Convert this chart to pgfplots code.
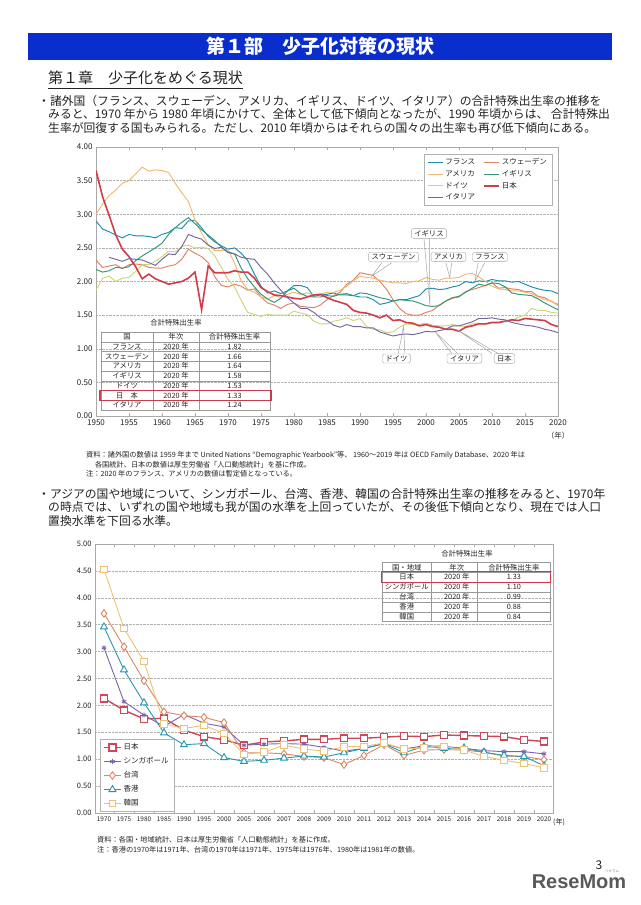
\documentclass[border=0pt]{standalone}
\usepackage{fontspec}
\usepackage{pgfplots}
\usepackage{pgfplotstable}
\pgfplotsset{compat=1.18}
\setmainfont{Noto Sans CJK JP}
\newfontfamily\logofont{Liberation Sans}
\newcommand\fs[1]{\fontsize{#1}{#1}\selectfont}

\definecolor{hdrblue}{RGB}{10,45,205}
\definecolor{txt}{RGB}{35,35,35}
\definecolor{axgray}{RGB}{170,170,170}
\definecolor{cFR}{RGB}{30,140,175}
\definecolor{cSE}{RGB}{225,130,100}
\definecolor{cUS}{RGB}{240,185,110}
\definecolor{cUK}{RGB}{50,150,120}
\definecolor{cDE}{RGB}{205,215,120}
\definecolor{cJP}{RGB}{210,60,75}
\definecolor{cIT}{RGB}{120,100,160}
\definecolor{aJP}{RGB}{205,70,90}
\definecolor{aSG}{RGB}{120,100,170}
\definecolor{aTW}{RGB}{220,135,100}
\definecolor{aHK}{RGB}{40,150,175}
\definecolor{aKR}{RGB}{235,195,120}
\definecolor{boxred}{RGB}{200,60,80}

% total fertility rate, 1950-2020
\pgfplotstableread{
year FR SE US UK DE JP IT
1950 2.90 2.32 3.00 2.18 1.87 3.65 nan
1951 2.78 2.21 3.15 2.14 2.05 3.26 nan
1952 2.74 2.23 3.28 2.16 2.08 2.98 2.36
1953 2.69 2.25 3.36 2.21 2.00 2.69 2.33
1954 2.65 2.19 3.46 2.20 2.05 2.48 2.30
1955 2.70 2.25 3.50 2.22 2.06 2.37 2.34
1956 2.68 2.26 3.60 2.31 2.15 2.22 2.33
1957 2.68 2.25 3.70 2.38 2.25 2.04 2.32
1958 2.67 2.21 3.64 2.44 2.25 2.11 2.28
1959 2.65 2.20 3.66 2.50 2.30 2.04 2.24
1960 2.70 2.20 3.65 2.57 2.37 2.00 2.33
1961 2.73 2.23 3.62 2.70 2.45 1.96 2.41
1962 2.80 2.25 3.46 2.80 2.44 1.98 2.40
1963 2.79 2.33 3.32 2.88 2.52 2.00 2.52
1964 2.90 2.48 3.19 2.95 2.54 2.05 2.70
1965 2.91 2.42 2.91 2.86 2.50 2.14 2.66
1966 2.80 2.37 2.72 2.77 2.51 1.58 2.63
1967 2.67 2.28 2.55 2.69 2.49 2.23 2.54
1968 2.59 2.07 2.46 2.61 2.38 2.13 2.49
1969 2.53 1.94 2.46 2.51 2.21 2.13 2.51
1970 2.48 1.92 2.48 2.44 2.03 2.13 2.43
1971 2.50 1.96 2.27 2.41 1.92 2.16 2.41
1972 2.42 1.93 2.01 2.20 1.72 2.14 2.36
1973 2.31 1.87 1.88 2.04 1.54 2.14 2.34
1974 2.11 1.89 1.84 1.92 1.51 2.05 2.33
1975 1.93 1.77 1.77 1.81 1.48 1.91 2.21
1976 1.83 1.68 1.74 1.74 1.51 1.85 2.11
1977 1.86 1.65 1.79 1.69 1.50 1.80 1.98
1978 1.82 1.60 1.76 1.75 1.50 1.79 1.87
1979 1.86 1.66 1.81 1.86 1.50 1.77 1.76
1980 1.94 1.68 1.84 1.90 1.56 1.75 1.68
1981 1.94 1.63 1.81 1.82 1.53 1.74 1.60
1982 1.91 1.62 1.83 1.78 1.51 1.77 1.60
1983 1.78 1.61 1.80 1.77 1.41 1.80 1.54
1984 1.80 1.65 1.81 1.77 1.37 1.81 1.46
1985 1.81 1.73 1.84 1.79 1.37 1.76 1.42
1986 1.83 1.79 1.84 1.78 1.41 1.72 1.35
1987 1.80 1.84 1.87 1.81 1.43 1.69 1.32
1988 1.80 1.96 1.93 1.82 1.46 1.66 1.36
1989 1.79 2.02 2.01 1.79 1.42 1.57 1.33
1990 1.77 2.13 2.08 1.83 1.45 1.54 1.33
1991 1.77 2.11 2.06 1.82 1.33 1.53 1.31
1992 1.73 2.09 2.05 1.79 1.29 1.50 1.31
1993 1.66 2.00 2.02 1.76 1.28 1.46 1.25
1994 1.68 1.89 2.00 1.74 1.24 1.50 1.22
1995 1.71 1.73 1.98 1.71 1.25 1.42 1.19
1996 1.73 1.60 1.98 1.73 1.32 1.43 1.21
1997 1.73 1.52 1.97 1.72 1.37 1.39 1.22
1998 1.76 1.50 2.00 1.71 1.36 1.38 1.21
1999 1.79 1.50 2.01 1.68 1.36 1.34 1.23
2000 1.89 1.54 2.06 1.64 1.38 1.36 1.26
2001 1.90 1.57 2.03 1.63 1.35 1.33 1.25
2002 1.88 1.65 2.02 1.64 1.34 1.32 1.27
2003 1.89 1.71 2.05 1.71 1.34 1.29 1.29
2004 1.92 1.75 2.05 1.76 1.36 1.29 1.34
2005 1.94 1.77 2.06 1.78 1.34 1.26 1.34
2006 2.00 1.85 2.11 1.84 1.33 1.32 1.37
2007 1.98 1.88 2.12 1.90 1.37 1.34 1.40
2008 2.01 1.91 2.07 1.96 1.38 1.37 1.45
2009 2.00 1.94 2.00 1.94 1.36 1.37 1.45
2010 2.03 1.98 1.93 1.98 1.39 1.39 1.46
2011 2.01 1.90 1.89 1.97 1.39 1.39 1.44
2012 2.01 1.91 1.88 1.92 1.41 1.41 1.43
2013 1.99 1.89 1.86 1.83 1.42 1.43 1.39
2014 2.00 1.88 1.86 1.81 1.47 1.42 1.37
2015 1.96 1.85 1.84 1.80 1.50 1.45 1.35
2016 1.92 1.85 1.82 1.79 1.60 1.44 1.34
2017 1.89 1.78 1.77 1.74 1.57 1.43 1.32
2018 1.87 1.76 1.73 1.68 1.57 1.42 1.29
2019 1.86 1.70 1.71 1.63 1.54 1.36 1.27
2020 1.82 1.66 1.64 1.58 1.53 1.33 1.24
}\tfrworld

% asia: 0=1970 1=1975 ... 7=2005, 8=2006 ... 22=2020
\pgfplotstableread{
x JP SG TW HK KR
0 2.13 3.07 3.71 3.46 4.53
1 1.91 2.07 3.09 2.66 3.43
2 1.75 1.82 2.46 2.05 2.82
3 1.76 1.61 1.88 1.49 1.66
4 1.54 1.83 1.81 1.27 1.57
5 1.42 1.67 1.78 1.29 1.63
6 1.36 1.60 1.68 1.03 1.48
7 1.26 1.26 1.12 0.96 1.09
8 1.32 1.28 1.12 0.98 1.13
9 1.34 1.29 1.10 1.02 1.26
10 1.37 1.28 1.05 1.06 1.19
11 1.37 1.22 1.03 1.04 1.15
12 1.39 1.15 0.90 1.12 1.23
13 1.39 1.20 1.07 1.20 1.24
14 1.41 1.29 1.27 1.29 1.30
15 1.43 1.19 1.07 1.12 1.19
16 1.42 1.25 1.17 1.24 1.21
17 1.45 1.24 1.18 1.20 1.24
18 1.44 1.20 1.17 1.21 1.17
19 1.43 1.16 1.13 1.13 1.05
20 1.42 1.14 1.06 1.07 0.98
21 1.36 1.14 1.05 1.05 0.92
22 1.33 1.10 0.99 0.88 0.84
}\tfrasia

\tikzset{callout/.style={draw=gray!70, fill=white, rounded corners=2pt,
    inner xsep=3pt, inner ysep=1.5pt, font=\fs{7.3}, text=txt},
  wedge/.style={draw=gray!70, line width=0.5pt}}

\begin{document}
\begin{tikzpicture}
\useasboundingbox (0pt,0pt) rectangle (640pt,-905pt);
\fill[white] (0pt,0pt) rectangle (640pt,-905pt);

% page text
\begin{scope}[x=1pt,y=-1pt]
\fill[hdrblue] (28,33) rectangle (612,60);
\node[text=white, font=\fs{19}\bfseries] at (320,46.5) {第１部　少子化対策の現状};
\node[anchor=west, inner sep=0pt, font=\fs{15}, text=txt] at (48,78) {第１章　少子化をめぐる現状};
\draw[txt, line width=0.7pt] (48,88) -- (243,88);
\begin{scope}[every node/.style={anchor=west, inner sep=0pt, font=\fs{11.8}, text=txt}]
\node at (38,101) {・諸外国（フランス、スウェーデン、アメリカ、イギリス、ドイツ、イタリア）の合計特殊出生率の推移を};
\node at (48,114.5) {みると、1970 年から 1980 年頃にかけて、全体として低下傾向となったが、1990 年頃からは、 合計特殊出};
\node at (48,128) {生率が回復する国もみられる。ただし、2010 年頃からはそれらの国々の出生率も再び低下傾向にある。};
\node at (38,494) {・アジアの国や地域について、シンガポール、台湾、香港、韓国の合計特殊出生率の推移をみると、1970年};
\node at (48,507.5) {の時点では、いずれの国や地域も我が国の水準を上回っていたが、その後低下傾向となり、現在では人口};
\node at (48,521) {置換水準を下回る水準。};
\end{scope}
\end{scope}

% chart 1: seven countries
\begin{axis}[
  at={(96pt,-416pt)}, anchor=south west,
  scale only axis, width=462pt, height=269pt,
  xmin=1950, xmax=2020, ymin=0, ymax=4,
  xtick={1950,1955,...,2020}, ytick={0,0.5,...,4},
  /pgf/number format/assume math mode=true,
  xticklabel style={/pgf/number format/1000 sep={}},
  yticklabel style={/pgf/number format/fixed, /pgf/number format/fixed zerofill, /pgf/number format/precision=2},
  tick label style={font=\fs{8}, text=txt},
  ymajorgrids, grid style={densely dotted, gray!60, line width=0.5pt},
  axis line style={axgray, line width=0.9pt},
  ytick style={draw=none},
  xtick style={axgray, line width=0.5pt}, tick align=inside, major tick length=3pt,
  legend columns=2, legend cell align=left,
  legend style={at={(0.987,0.974)}, anchor=north east, draw=gray!60, fill=white,
    font=\fs{7.5}, text=txt, inner xsep=3pt, inner ysep=2pt,
    /tikz/every even column/.append style={column sep=6pt}},
  legend image code/.code={\draw[#1] (0pt,0pt) -- (15pt,0pt);},
  every axis plot/.append style={line width=0.95pt},
  unbounded coords=jump,
]
\addplot[cFR] table[x=year,y=FR]{\tfrworld};
\addlegendentry{フランス}
\addplot[cSE] table[x=year,y=SE]{\tfrworld};
\addlegendentry{スウェーデン}
\addplot[cUS] table[x=year,y=US]{\tfrworld};
\addlegendentry{アメリカ}
\addplot[cUK] table[x=year,y=UK]{\tfrworld};
\addlegendentry{イギリス}
\addplot[cDE] table[x=year,y=DE]{\tfrworld};
\addlegendentry{ドイツ}
\addplot[cJP, line width=1.6pt] table[x=year,y=JP]{\tfrworld};
\addlegendentry{日本}
\addplot[cIT] table[x=year,y=IT]{\tfrworld};
\addlegendentry{イタリア}

% callouts
\draw[wedge] (axis cs:1999.7,2.63) -- (axis cs:2000.6,1.635) -- (axis cs:2000.5,2.63);
\node[callout] at (axis cs:2000.45,2.714) {イギリス};
\draw[wedge] (axis cs:1993.3,2.28) -- (axis cs:1991.8,2.08) -- (axis cs:1994.8,2.28);
\node[callout] at (axis cs:1995.08,2.364) {スウェーデン};
\draw[wedge] (axis cs:2003.0,2.28) -- (axis cs:2003.6,2.06) -- (axis cs:2003.9,2.28);
\node[callout] at (axis cs:2003.41,2.364) {アメリカ};
\draw[wedge] (axis cs:2007.9,2.28) -- (axis cs:2007.4,2.00) -- (axis cs:2008.9,2.28);
\node[callout] at (axis cs:2009.70,2.364) {フランス};
\draw[wedge] (axis cs:1995.8,0.93) -- (axis cs:1996.6,1.33) -- (axis cs:1996.8,0.93);
\node[callout] at (axis cs:1995.53,0.855) {ドイツ};
\draw[wedge] (axis cs:2003.9,0.93) -- (axis cs:2001.4,1.25) -- (axis cs:2004.8,0.93);
\node[callout] at (axis cs:2005.83,0.855) {イタリア};
\draw[wedge] (axis cs:2010.0,0.93) -- (axis cs:2004.6,1.29) -- (axis cs:2010.9,0.93);
\node[callout] at (axis cs:2011.89,0.855) {日本};
\end{axis}

% chart 2: asia
\begin{axis}[
  at={(95pt,-813pt)}, anchor=south west,
  scale only axis, width=458pt, height=269pt,
  xmin=-0.45, xmax=22.45, ymin=0, ymax=5,
  xtick={0,...,22},
  xticklabels={1970,1975,1980,1985,1990,1995,2000,2005,2006,2007,2008,2009,2010,2011,2012,2013,2014,2015,2016,2017,2018,2019,2020},
  minor xtick={0.5,1.5,...,21.5},
  ytick={0,0.5,...,5},
  /pgf/number format/assume math mode=true,
  yticklabel style={/pgf/number format/fixed, /pgf/number format/fixed zerofill, /pgf/number format/precision=2},
  y tick label style={font=\fs{7.5}, text=txt},
  x tick label style={font=\fs{6.4}, text=txt, inner xsep=0pt},
  ymajorgrids, grid style={densely dotted, gray!60, line width=0.5pt},
  axis line style={axgray, line width=0.9pt},
  major tick length=0pt, minor tick length=3pt, tick align=inside,
  minor tick style={axgray, line width=0.5pt},
  legend cell align=left,
  legend style={at={(0.011,0.005)}, anchor=south west, draw=gray!60, fill=white,
    font=\fs{7.5}, text=txt, inner xsep=3pt, inner ysep=2pt, row sep=2.2pt},
  every axis plot/.append style={line width=0.9pt, mark options={solid, fill=white}},
]
\addplot[aJP, line width=1.4pt, mark=square*, mark size=3.4pt] table[x=x,y=JP]{\tfrasia};
\addlegendentry{日本}
\addplot[aSG, mark=asterisk, mark size=2.6pt] table[x=x,y=SG]{\tfrasia};
\addlegendentry{シンガポール}
\addplot[aTW, mark=diamond*, mark size=3.8pt] table[x=x,y=TW]{\tfrasia};
\addlegendentry{台湾}
\addplot[aHK, mark=triangle*, mark size=4pt] table[x=x,y=HK]{\tfrasia};
\addlegendentry{香港}
\addplot[aKR, mark=square*, mark size=3.3pt] table[x=x,y=KR]{\tfrasia};
\addlegendentry{韓国}
\end{axis}

% tables, notes, footer
\begin{scope}[x=1pt,y=-1pt]
\node[font=\fs{7.5}, text=txt] at (558,436) {（年）};
\node[font=\fs{7}, text=txt, anchor=west, inner sep=0pt] at (553,822) {(年)};

\begin{scope}[font=\fs{7.3}, text=txt]
\node at (176,323) {合計特殊出生率};
\draw[gray!80, line width=0.6pt] (101,332) rectangle (270,410);
\foreach \i in {1,...,7} {\draw[gray!80, line width=0.5pt] (101,{332+\i*9.75}) -- (270,{332+\i*9.75});}
\draw[gray!80, line width=0.5pt] (153,332) -- (153,410) (199,332) -- (199,410);
\foreach \a/\b/\d [count=\i from 0] in {国/年次/合計特殊出生率, フランス/2020 年/1.82,
    スウェーデン/2020 年/1.66, アメリカ/2020 年/1.64, イギリス/2020 年/1.58,
    ドイツ/2020 年/1.53, 日　本/2020 年/1.33, イタリア/2020 年/1.24} {
  \node[inner sep=0pt] at (127,{336.9+\i*9.75}) {\a};
  \node[inner sep=0pt] at (176,{336.9+\i*9.75}) {\b};
  \node[inner sep=0pt] at (234.5,{336.9+\i*9.75}) {\d};
}
\draw[boxred, line width=1.1pt] (100,390.3) rectangle (271,400.5);

\node at (467,554) {合計特殊出生率};
\draw[gray!80, line width=0.6pt] (382,562.3) rectangle (550,621.7);
\foreach \i in {1,...,5} {\draw[gray!80, line width=0.5pt] (382,{562.3+\i*9.9}) -- (550,{562.3+\i*9.9});}
\draw[gray!80, line width=0.5pt] (431.5,562.3) -- (431.5,621.7) (477.7,562.3) -- (477.7,621.7);
\foreach \a/\b/\d [count=\i from 0] in {国・地域/年次/合計特殊出生率, 日本/2020 年/1.33,
    シンガポール/2020 年/1.10, 台湾/2020 年/0.99, 香港/2020 年/0.88, 韓国/2020 年/0.84} {
  \node[inner sep=0pt] at (456.75,{567.25+\i*9.9}) {\b};
  \node[inner sep=0pt] at (513.85,{567.25+\i*9.9}) {\d};
  \node[inner sep=0pt] at (406.75,{567.25+\i*9.9}) {\a};
}
\draw[boxred, line width=1.1pt] (381.5,571.8) rectangle (550.5,582.5);
\end{scope}

\begin{scope}[every node/.style={anchor=west, inner sep=0pt, font=\fs{7.2}, text=txt}]
\node at (86,455) {資料：諸外国の数値は 1959 年まで United Nations “Demographic Yearbook”等、 1960～2019 年は OECD Family Database、2020 年は};
\node at (86,464.5) {　 各国統計、日本の数値は厚生労働省「人口動態統計」を基に作成。};
\node at (86,474) {注：2020 年のフランス、アメリカの数値は暫定値となっている。};
\node at (97,840) {資料：各国・地域統計、日本は厚生労働省「人口動態統計」を基に作成。};
\node at (97,849.5) {注：香港の1970年は1971年、台湾の1970年は1971年、1975年は1976年、1980年は1981年の数値。};
\end{scope}

\node[font=\fs{12}, text=txt] at (599,865) {3};
\node[font=\logofont\fs{20}\bfseries, text=gray!70!black, inner sep=0pt] at (579,882) {ReseMom};
\node[font=\fs{3.5}, text=gray, inner sep=0pt] at (612,871) {リセマム};
\end{scope}
\end{tikzpicture}
\end{document}
